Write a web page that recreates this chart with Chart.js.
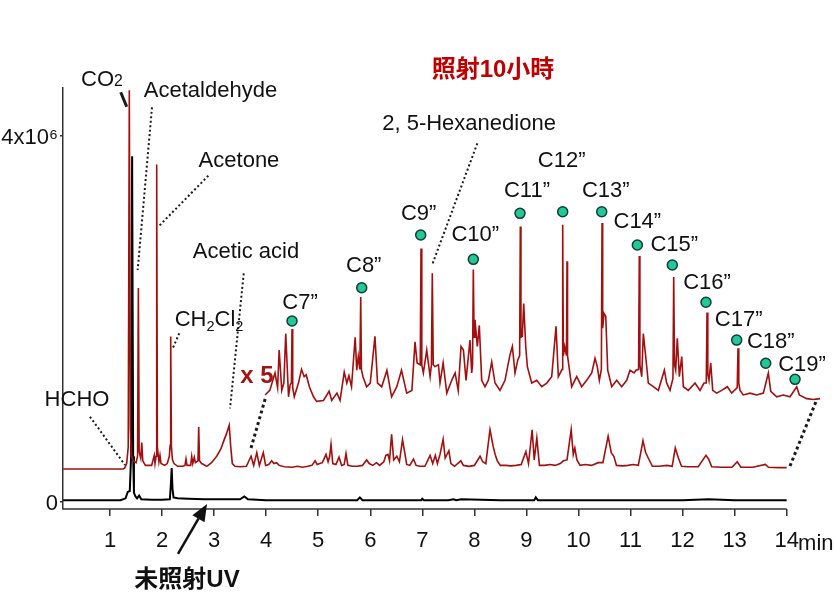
<!DOCTYPE html>
<html><head><meta charset="utf-8">
<script src="https://cdn.jsdelivr.net/npm/chart.js@4/dist/chart.umd.min.js"></script>
<style>html,body{margin:0;padding:0;background:#fff}</style>
</head><body>
<canvas id="c" width="836" height="609"></canvas>
<script>
// ---------- DATA (retention time in min, signal in 10^6 counts) ----------
const xTicks = [1,2,3,4,5,6,7,8,9,10,11,12,13,14];
const yTicks = [0, 4];
const yTickLabels = ['0', '4x10\u2076'];

// 未照射UV (black trace)
const blackTime = [0.1,1.2,1.3,1.34,1.38,1.405,1.425,1.445,1.46,1.49,
  1.52,1.56,1.6,1.8,2.0,2.15,2.17,2.185,2.2,2.22,
  2.3,2.5,2.8,3.2,3.5,3.58,3.65,4.0,4.6,5.2,
  5.75,5.8,5.85,6.5,6.98,7.0,7.03,7.5,7.6,7.65,
  7.75,8.5,9.15,9.18,9.22,10.0,11.0,12.0,12.5,13.0,14.0];
const blackSignal = [0.02,0.02,0.04,0.11,0.12,0.5,3.78,0.5,0.1,0.06,
  0.04,0.07,0.03,0.025,0.025,0.03,0.2,0.37,0.15,0.05,
  0.04,0.035,0.03,0.03,0.03,0.06,0.03,0.02,0.02,0.02,
  0.02,0.05,0.02,0.02,0.02,0.035,0.02,0.02,0.03,0.02,
  0.03,0.02,0.02,0.05,0.02,0.02,0.02,0.02,0.03,0.02,0.02];

// 照射10小時 (red trace, offset)
const redTime = [0.1,1.25,1.28,1.32,1.35,1.371,1.39,1.41,1.44,1.47,
  1.50,1.53,1.545,1.56,1.59,1.61,1.63,1.68,1.75,1.80,
  1.85,1.865,1.885,1.897,1.91,1.94,1.96,1.98,2.05,2.10,
  2.14,2.155,2.166,2.18,2.20,2.23,2.30,2.40,2.44,2.46,
  2.48,2.55,2.57,2.59,2.62,2.64,2.69,2.704,2.72,2.76,
  2.80,2.86,2.95,3.05,3.13,3.18,3.24,3.29,3.32,3.35,
  3.40,3.50,3.62,3.71,3.76,3.82,3.87,3.945,3.99,4.05,
  4.106,4.15,4.20,4.25,4.35,4.5,4.6,4.7,4.8,4.88,
  4.94,4.98,5.03,5.08,5.15,5.19,5.22,5.246,5.28,5.34,
  5.40,5.45,5.50,5.534,5.57,5.65,5.75,5.85,5.93,5.98,
  6.05,6.12,6.18,6.26,6.30,6.34,6.37,6.41,6.45,6.51,
  6.56,6.62,6.65,6.70,6.76,6.83,6.88,6.95,7.05,7.15,
  7.20,7.25,7.29,7.34,7.40,7.44,7.51,7.55,7.62,7.74,
  7.79,7.90,8.0,8.11,8.16,8.22,8.30,8.36,8.40,8.44,
  8.50,8.60,8.70,8.8,8.90,8.99,9.04,9.11,9.15,9.20,
  9.25,9.35,9.45,9.55,9.65,9.71,9.78,9.86,9.90,9.93,
  9.97,10.03,10.13,10.25,10.38,10.47,10.57,10.63,10.68,10.73,
  10.85,10.95,11.05,11.15,11.24,11.29,11.35,11.42,11.55,11.70,
  11.80,11.86,11.92,11.98,12.1,12.3,12.45,12.50,12.56,12.75,
  12.95,13.05,13.12,13.35,13.59,13.65,13.85,14.0];
const redSignal = [0.36,0.36,0.37,0.42,0.6,4.5,0.8,0.5,0.46,0.44,
  0.43,0.5,2.34,0.55,0.48,0.65,0.45,0.40,0.40,0.40,
  0.51,0.42,0.5,3.69,0.6,0.44,0.51,0.42,0.40,0.42,
  0.5,0.62,1.81,0.6,0.46,0.42,0.39,0.39,0.40,0.47,
  0.40,0.40,0.50,0.42,0.49,0.43,0.45,0.82,0.45,0.42,
  0.41,0.39,0.43,0.50,0.58,0.66,0.75,0.84,0.6,0.42,
  0.39,0.385,0.39,0.50,0.40,0.54,0.40,0.54,0.40,0.41,
  0.45,0.42,0.43,0.40,0.385,0.38,0.39,0.38,0.39,0.40,
  0.45,0.41,0.42,0.43,0.52,0.44,0.50,0.63,0.42,0.41,
  0.49,0.40,0.41,0.53,0.40,0.39,0.39,0.40,0.46,0.42,
  0.40,0.43,0.40,0.44,0.51,0.52,0.45,0.74,0.46,0.50,
  0.44,0.68,0.58,0.41,0.40,0.47,0.40,0.39,0.39,0.51,
  0.42,0.51,0.42,0.52,0.685,0.48,0.56,0.42,0.39,0.45,
  0.40,0.39,0.40,0.50,0.44,0.42,0.79,0.61,0.52,0.45,
  0.40,0.40,0.395,0.40,0.41,0.55,0.42,0.79,0.46,0.70,
  0.40,0.40,0.41,0.40,0.42,0.45,0.46,0.79,0.52,0.59,
  0.46,0.40,0.41,0.40,0.43,0.43,0.72,0.54,0.50,0.40,
  0.395,0.40,0.41,0.40,0.67,0.54,0.47,0.39,0.39,0.40,
  0.39,0.59,0.48,0.39,0.385,0.385,0.51,0.47,0.385,0.38,
  0.38,0.44,0.38,0.38,0.41,0.38,0.376,0.376];

// x5 magnified segment (as displayed, shifted)
const x5Time = [3.98,4.07,4.17,4.22,4.25,4.30,4.34,4.376,4.43,4.46,
  4.485,4.497,4.51,4.54,4.62,4.68,4.73,4.77,4.83,4.91,
  4.97,5.10,5.21,5.26,5.36,5.42,5.50,5.55,5.59,5.64,
  5.71,5.74,5.77,5.80,5.817,5.83,5.86,5.93,6.00,6.09,
  6.14,6.22,6.32,6.41,6.51,6.60,6.70,6.80,6.86,6.90,
  6.96,6.975,6.99,7.02,7.085,7.15,7.175,7.192,7.21,7.24,
  7.31,7.34,7.40,7.47,7.565,7.63,7.69,7.744,7.79,7.84,
  7.916,7.949,7.965,7.98,7.995,8.012,8.057,8.095,8.141,8.205,
  8.268,8.333,8.397,8.493,8.589,8.685,8.73,8.781,8.833,8.87,
  8.883,8.895,8.921,8.948,8.987,9.018,9.102,9.198,9.294,9.39,
  9.486,9.569,9.613,9.685,9.697,9.71,9.736,9.77,9.78,9.79,
  9.818,9.87,9.966,10.062,10.158,10.255,10.318,10.362,10.401,10.44,
  10.453,10.465,10.491,10.524,10.562,10.639,10.735,10.831,10.927,10.99,
  11.067,11.106,11.155,11.169,11.18,11.215,11.246,11.292,11.342,11.438,
  11.534,11.65,11.695,11.759,11.815,11.83,11.845,11.868,11.899,11.938,
  11.984,12.015,12.111,12.239,12.335,12.412,12.455,12.47,12.485,12.508,
  12.541,12.579,12.656,12.752,12.86,12.944,13.05,13.065,13.08,13.104,
  13.167,13.296,13.424,13.552,13.648,13.694,13.809,13.936,14.064,14.193,
  14.243,14.385,14.512,14.641];
const x5Signal = [1.17,1.22,1.41,1.25,1.66,1.22,1.30,1.84,1.15,1.28,
  1.30,1.89,1.25,1.15,1.30,1.45,1.37,1.39,1.26,1.15,
  1.10,1.11,1.21,1.11,1.19,1.11,1.42,1.30,1.38,1.26,
  1.80,1.44,1.59,1.45,2.24,1.45,1.37,1.26,1.30,1.81,
  1.30,1.26,1.44,1.15,1.26,1.44,1.19,1.22,1.75,1.52,
  1.5,2.77,1.5,1.41,1.66,1.37,1.5,2.50,1.5,1.48,
  1.50,1.30,1.52,1.19,1.33,1.41,1.22,1.70,1.66,1.33,
  1.77,1.41,1.5,2.54,1.8,1.99,1.70,1.93,1.33,1.26,
  1.33,1.53,1.30,1.22,1.33,1.61,1.70,1.41,1.55,1.6,
  3.01,1.8,1.81,2.17,1.70,1.48,1.30,1.33,1.26,1.30,
  1.37,1.92,1.37,1.45,3.03,1.6,1.70,1.6,2.63,1.6,
  1.48,1.26,1.37,1.26,1.33,1.41,1.57,1.48,1.33,1.45,
  3.05,1.9,2.06,2.03,1.44,1.26,1.33,1.26,1.33,1.44,
  1.41,1.44,1.45,2.69,1.5,1.37,1.84,1.59,1.30,1.26,
  1.22,1.44,1.30,1.22,1.35,2.46,1.5,1.44,1.79,1.37,
  1.59,1.26,1.22,1.30,1.22,1.30,1.3,2.07,1.4,1.33,
  1.52,1.22,1.19,1.22,1.26,1.19,1.25,1.68,1.3,1.22,
  1.17,1.19,1.17,1.19,1.41,1.21,1.15,1.17,1.15,1.26,
  1.17,1.13,1.12,1.13];

// n-alkane markers
const peakNames = ['C7\u201D','C8\u201D','C9\u201D','C10\u201D','C11\u201D','C12\u201D','C13\u201D','C14\u201D','C15\u201D','C16\u201D','C17\u201D','C18\u201D','C19\u201D'];
const dotTime = [4.497,5.836,6.969,7.980,8.877,9.697,10.447,11.131,11.803,12.450,13.040,13.598,14.161];
const dotSignal = [1.978,2.342,2.918,2.652,3.155,3.173,3.173,2.809,2.590,2.183,1.770,1.516,1.341];

// ---------- LAYOUT / STYLE ----------
const FONT = "'Liberation Sans', Arial, 'Noto Sans CJK TC', sans-serif";
const peakLabelOffset = [[8,-20],[2,-24],[-2,-23],[2,-26],[7,-24],[-1,-53],[4,-23],[0,-25],[2,-22],[1,-21],[2,-22],[5,-23],[7,-16]];
const xAxisEnd = 14;

// annotations anchored in data coordinates
const textNotes = [
  {segs:[['CO',0],['2',3]], at:[0.846,4.634]},
  {segs:[['Acetaldehyde',0]], at:[2.931,4.514]},
  {segs:[['Acetone',0]], at:[3.478,3.749]},
  {segs:[['Acetic acid',0]], at:[3.613,2.754]},
  {segs:[['CH',0],['2',1],['Cl',0],['2',1]], at:[2.902,2.011]},
  {segs:[['HCHO',0]], at:[0.366,1.137]},
  {segs:[['2, 5-Hexanedione',0]], at:[7.898,4.153]},
  {segs:[['\u7167\u5C0410\u5C0F\u6642',0]], at:[8.358,4.743], color:'#c00000', bold:true, size:24},
  {segs:[['x 5',0]], at:[3.824,1.40], color:'#a31515', bold:true, size:24},
  {segs:[['\u672A\u7167\u5C04UV',0]], at:[2.480,-0.831], bold:true, size:24},
  {segs:[['min',0]], at:[14.56,-0.44]}
];
const leaders = [
  {from:[1.206,4.478], to:[1.321,4.32], w:3, dash:[]},
  {from:[1.807,4.314], to:[1.532,2.536], w:2, dash:[2,2.5]},
  {from:[2.889,3.566], to:[1.928,3.009], w:2, dash:[2,2.5]},
  {from:[3.569,2.499], to:[3.306,1.024], w:2, dash:[2,2.5]},
  {from:[2.331,1.844], to:[2.205,1.680], w:2, dash:[2,2.5]},
  {from:[0.616,0.932], to:[1.288,0.404], w:2, dash:[2,2.5]},
  {from:[8.057,3.920], to:[7.200,2.609], w:2, dash:[2,2.5]},
  {from:[3.709,0.590], to:[3.997,1.158], w:3, dash:[3,3]},
  {from:[14.064,0.393], to:[14.583,1.126], w:3, dash:[3,3]}
];
const arrowNote = {from:[2.306,-0.568], to:[2.864,-0.022]};

function pts(ts, vs){ return ts.map((t,i)=>({x:t, y:vs[i]})); }

function drawRich(ctx, segs, cx, cy, size, bold, color){
  const w = bold ? 'bold ' : '';
  const parts = segs.map(([t,m])=>{
    const s = m===0 ? size : (m===3 ? size*0.72 : size*0.66);
    ctx.font = w + s + 'px ' + FONT;
    return {t, m, s, width: ctx.measureText(t).width};
  });
  const total = parts.reduce((a,p)=>a+p.width,0);
  let xx = cx - total/2;
  const base = cy + size*0.36;
  ctx.fillStyle = color; ctx.textAlign='left'; ctx.textBaseline='alphabetic';
  parts.forEach(p=>{
    ctx.font = w + p.s + 'px ' + FONT;
    let yy = base;
    if (p.m===1) yy = base + size*0.22;
    if (p.m===2) yy = base - size*0.4;
    if (p.m===3) yy = base - size*0.02;
    ctx.fillText(p.t, xx, yy);
    xx += p.width;
  });
}

const annot = {
  id:'annot',
  afterDraw(chart){
    const {ctx, chartArea} = chart;
    const xs = chart.scales.x, ys = chart.scales.y;
    const X = v=>xs.getPixelForValue(v), Y = v=>ys.getPixelForValue(v);
    ctx.save();
    // x axis line up to 14 min
    ctx.strokeStyle='#333'; ctx.lineWidth=1.5; ctx.setLineDash([]);
    ctx.beginPath(); ctx.moveTo(chartArea.left, chartArea.bottom); ctx.lineTo(X(xAxisEnd), chartArea.bottom); ctx.stroke();
    // leader lines
    leaders.forEach(l=>{
      ctx.strokeStyle='#1a1a1a'; ctx.lineWidth=l.w; ctx.setLineDash(l.dash);
      ctx.beginPath(); ctx.moveTo(X(l.from[0]),Y(l.from[1])); ctx.lineTo(X(l.to[0]),Y(l.to[1])); ctx.stroke();
    });
    ctx.setLineDash([]);
    // arrow
    const ax0=X(arrowNote.from[0]), ay0=Y(arrowNote.from[1]), ax1=X(arrowNote.to[0]), ay1=Y(arrowNote.to[1]);
    const ang = Math.atan2(ay1-ay0, ax1-ax0), L=17, H=7;
    const bx = ax1 - L*Math.cos(ang), by = ay1 - L*Math.sin(ang);
    ctx.strokeStyle='#111'; ctx.lineWidth=2.5;
    ctx.beginPath(); ctx.moveTo(ax0,ay0); ctx.lineTo(bx,by); ctx.stroke();
    ctx.fillStyle='#111'; ctx.beginPath();
    ctx.moveTo(ax1,ay1);
    ctx.lineTo(bx + H*Math.sin(ang), by - H*Math.cos(ang));
    ctx.lineTo(bx - H*Math.sin(ang), by + H*Math.cos(ang));
    ctx.closePath(); ctx.fill();
    // text notes
    textNotes.forEach(n=>{
      drawRich(ctx, n.segs, X(n.at[0]), Y(n.at[1]), n.size||22, !!n.bold, n.color||'#111');
    });
    // peak labels
    peakNames.forEach((name,i)=>{
      const px = X(dotTime[i]) + peakLabelOffset[i][0];
      const py = Y(dotSignal[i]) + peakLabelOffset[i][1];
      drawRich(ctx, [[name,0]], px, py, 22, false, '#111');
    });
    ctx.restore();
  }
};

new Chart(document.getElementById('c'), {
  type:'line',
  data:{datasets:[
    {label:'照射10小時', data:pts(redTime, redSignal), borderColor:'#a10f0f', borderWidth:1.6, pointRadius:0, tension:0, fill:false},
    {label:'x5', data:pts(x5Time, x5Signal), borderColor:'#a10f0f', borderWidth:1.6, pointRadius:0, tension:0, fill:false},
    {label:'未照射UV', data:pts(blackTime, blackSignal), borderColor:'#000', borderWidth:2, pointRadius:0, tension:0, fill:false},
    {type:'scatter', label:'alkanes', data:pts(dotTime, dotSignal), showLine:false, pointRadius:5, pointBackgroundColor:'#22c79a', pointBorderColor:'#123d30', pointBorderWidth:1.5}
  ]},
  options:{
    responsive:false, animation:false, events:[],
    layout:{padding:{left:0,right:13,top:88,bottom:0}},
    plugins:{legend:{display:false}, tooltip:{enabled:false}},
    scales:{
      x:{type:'linear', min:0.097, max:14.698,
        afterBuildTicks:s=>{s.ticks = xTicks.map(v=>({value:v}));},
        afterFit:s=>{s.height=100;},
        grid:{drawOnChartArea:false, drawTicks:true, tickLength:7, color:'#333', lineWidth:1.5},
        border:{display:false},
        ticks:{font:{family:FONT,size:22}, color:'#111', padding:12, maxRotation:0, autoSkip:false, callback:v=>String(v)}
      },
      y:{type:'linear', min:-0.0765, max:4.525,
        afterBuildTicks:s=>{s.ticks = yTicks.map(v=>({value:v}));},
        afterFit:s=>{s.width=63;},
        grid:{drawOnChartArea:false, drawTicks:true, tickLength:3, color:'#333', lineWidth:1.5},
        border:{display:true, color:'#333', width:1.5},
        ticks:{font:{family:FONT,size:22}, color:'#111', padding:2, labelOffset:2, callback:v=>yTickLabels[yTicks.indexOf(v)]}
      }
    }
  },
  plugins:[annot]
});
</script>
</body></html>
